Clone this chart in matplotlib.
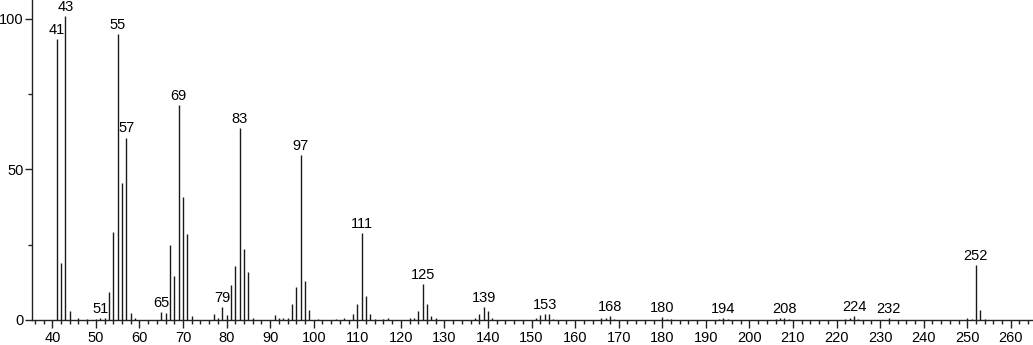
import matplotlib
matplotlib.use("Agg")
import matplotlib.pyplot as plt
from matplotlib.ticker import MultipleLocator

# m/z values and relative intensities
mz = [41, 42, 43, 44, 46, 48, 50, 51, 52, 53, 54, 55, 56, 57, 58, 59,
      65, 66, 67, 68, 69, 70, 71, 72, 77, 78, 79, 80, 81, 82, 83, 84, 85, 86,
      91, 92, 93, 94, 95, 96, 97, 98, 99, 101, 105, 107, 109, 110, 111, 112, 113, 114,
      116, 117, 122, 123, 124, 125, 126, 127, 128,
      137, 138, 139, 140, 141, 151, 152, 153, 154, 155,
      166, 167, 168, 169, 180, 181, 182, 193, 194, 195,
      206, 207, 208, 209, 222, 223, 224, 225, 232, 250, 251, 252, 253, 254]
intensity = [93.4, 19.0, 101.0, 3.0, 0.5, 0.4, 0.3, 0.6, 0.8, 9.2, 29.3, 95.0, 45.4, 60.6, 2.4, 0.6,
             2.6, 2.2, 25.0, 14.6, 71.4, 41.0, 28.6, 1.3, 1.9, 0.5, 4.4, 1.7, 11.7, 18.0, 63.9, 23.7, 16.0, 0.7,
             1.5, 0.6, 0.5, 0.5, 5.3, 11.0, 54.8, 13.0, 3.3, 0.3, 0.4, 0.6, 1.9, 5.3, 28.8, 8.0, 1.9, 0.4,
             0.3, 0.5, 0.5, 0.8, 3.1, 12.0, 5.3, 1.3, 0.5,
             0.5, 1.9, 4.2, 3.0, 0.5, 0.5, 1.5, 1.9, 1.9, 0.3,
             0.6, 0.8, 1.3, 0.3, 0.9, 0.4, 0.4, 0.3, 0.5, 0.4,
             0.3, 0.5, 0.6, 0.4, 0.4, 0.5, 1.3, 0.4, 0.6, 0.6, 0.4, 18.3, 3.3, 0.3]

labeled_mz = [41, 43, 51, 55, 57, 65, 69, 79, 83, 97, 111, 125, 139, 153,
              168, 180, 194, 208, 224, 232, 252]

x_ticks = list(range(40, 261, 10))
y_ticks = [0, 50, 100]

plt.rcParams['font.family'] = ['Liberation Sans', 'DejaVu Sans']

fig = plt.figure(figsize=(10.33, 3.45), dpi=100)
ax = fig.add_axes([0.0307, 0.0725, 0.9693, 0.9275])

ax.vlines(mz, 0, intensity, colors='#1a1a1a', linewidth=1.0)

lookup = dict(zip(mz, intensity))
for m in labeled_mz:
    ax.annotate(str(m), (m, lookup[m]), xytext=(0, 1.5), textcoords='offset points',
                ha='center', va='bottom', fontsize=10.5, color='black')

ax.set_xlim(35.27, 265.1)
ax.set_ylim(0, 106.3)
ax.set_xticks(x_ticks)
ax.set_yticks(y_ticks)
ax.xaxis.set_minor_locator(MultipleLocator(2))
ax.yaxis.set_minor_locator(MultipleLocator(25))
ax.tick_params(axis='x', which='major', length=6, width=1, labelsize=10.5, pad=2, color='#222')
ax.tick_params(axis='y', which='major', length=5, width=1, labelsize=10.5, pad=0.8, color='#222')
ax.tick_params(axis='both', which='minor', length=3, width=1, color='#222')
for s in ['top', 'right']:
    ax.spines[s].set_visible(False)
for s in ['left', 'bottom']:
    ax.spines[s].set_linewidth(1.0)
    ax.spines[s].set_color('#222')

fig.savefig('out.png', dpi=100)
